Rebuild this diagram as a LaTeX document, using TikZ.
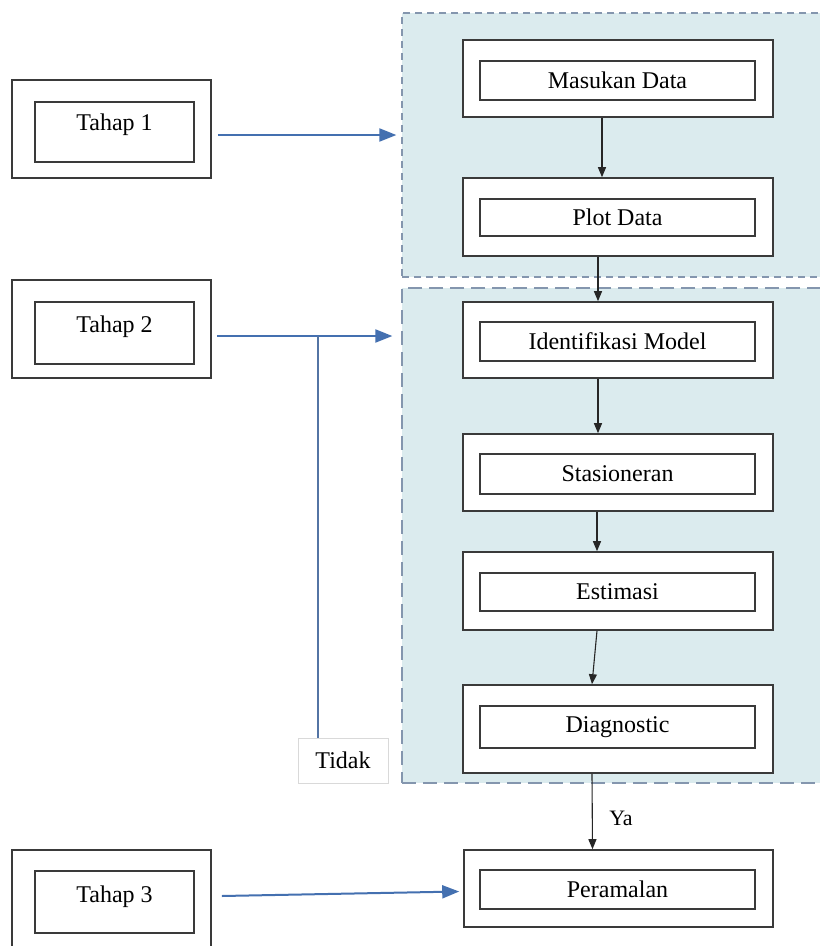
\documentclass[tikz,border=0pt]{standalone}
\usepackage{fontspec}
\setmainfont{Liberation Serif}
\usetikzlibrary{arrows.meta,calc}

\definecolor{panelfill}{HTML}{DBEBEE}
\definecolor{paneledge}{HTML}{8496AE}
\definecolor{flowblue}{HTML}{4470B0}
\definecolor{boxedge}{HTML}{3A3A3A}

\tikzset{
  outerbox/.style={draw=boxedge, line width=1.6pt, fill=white, minimum width=#1, inner sep=0pt},
  innerbox/.style={draw=boxedge, line width=1.4pt, fill=white, inner sep=0pt,
    font=\fontsize{24}{26}\selectfont},
  stagetext/.style={font=\fontsize{24}{26}\selectfont, inner sep=0pt},
  panel/.style={fill=panelfill, draw=paneledge, line width=1.3pt, inner sep=0pt},
  flow/.style={draw=black!85, line width=1.1pt, -{Triangle[length=10pt,width=8pt]}},
  stagearrow/.style={draw=flowblue, line width=2pt, -{Triangle[length=17pt,width=13pt]}},
  tidakbox/.style={draw=black!15, line width=0.6pt, fill=white, inner sep=0pt,
    font=\fontsize{24}{26}\selectfont},
}

\begin{document}
\begin{tikzpicture}[x=1pt,y=-1pt]
\clip (0,0) rectangle (820,946);
\fill[white] (0,0) rectangle (820,946);

% shaded stage panels
\node[panel, dash pattern=on 7pt off 5pt, minimum width=424pt, minimum height=264pt]
  (g1) at (614,145) {};
\node[panel, dash pattern=on 14pt off 7pt, minimum width=424pt, minimum height=495pt]
  (g2) at (614,535.5) {};

% stage boxes on the left
\node[outerbox={199pt}, minimum height=98pt] (t1o) at (111.5,129) {};
\node[innerbox, minimum width=159pt, minimum height=60pt] (t1i) at (114.5,132) {};
\node[stagetext] (t1t) at ([yshift=7pt]t1i.center) {Tahap 1};
\node[outerbox={199pt}, minimum height=98pt] (t2o) at (111.5,329) {};
\node[innerbox, minimum width=159pt, minimum height=62pt] (t2i) at (114.5,333) {};
\node[stagetext] (t2t) at ([yshift=6pt]t2i.center) {Tahap 2};
\node[outerbox={199pt}, minimum height=98pt] (t3o) at (111.5,899) {};
\node[innerbox, minimum width=159pt, minimum height=62pt] (t3i) at (114.5,902) {};
\node[stagetext] (t3t) at ([yshift=5pt]t3i.center) {Tahap 3};

% process steps
\node[outerbox={310pt}, minimum height=77pt] (mo) at (618,78.5) {};
\node[innerbox, minimum width=275pt, minimum height=39pt] (mi) at (617.5,80.5) {Masukan Data};
\node[outerbox={310pt}, minimum height=78pt] (po) at (618,217) {};
\node[innerbox, minimum width=275pt, minimum height=37pt] (pi) at (617.5,217.5) {Plot Data};
\node[outerbox={310pt}, minimum height=76pt] (io) at (618,340) {};
\node[innerbox, minimum width=275pt, minimum height=39pt] (ii) at (617.5,341.5) {Identifikasi Model};
\node[outerbox={310pt}, minimum height=77pt] (so) at (618,472.5) {};
\node[innerbox, minimum width=275pt, minimum height=40pt] (si) at (617.5,474) {Stasioneran};
\node[outerbox={310pt}, minimum height=78pt] (eo) at (618,591) {};
\node[innerbox, minimum width=275pt, minimum height=38pt] (ei) at (617.5,592) {Estimasi};
\node[outerbox={310pt}, minimum height=88pt] (do) at (618,729) {};
\node[innerbox, minimum width=275pt, minimum height=42pt] (di) at (617.5,727) {Diagnostic};
\node[outerbox={309pt}, minimum height=77pt] (ro) at (618.5,888.5) {};
\node[innerbox, minimum width=275pt, minimum height=39pt] (ri) at (617.5,889.5) {Peramalan};

% vertical flow
\draw[flow] ([xshift=-16pt]mo.south) -- ([xshift=-16pt]po.north);
\draw[flow] ([xshift=-20pt]po.south) -- ([xshift=-20pt]io.north);
\draw[flow] ([xshift=-20pt]io.south) -- ([xshift=-20pt]so.north);
\draw[flow] ([xshift=-21pt]so.south) -- ([xshift=-21pt]eo.north);
\draw[flow] ([xshift=-21pt]eo.south) -- ([xshift=-26pt]do.north);
\draw[flow] ([xshift=-26pt]do.south) -- ([xshift=-26pt]ro.north);
\node[font=\fontsize{22}{24}\selectfont] (ya) at (621,818) {Ya};

% stage arrows
\coordinate (a1) at ($(t1o.east)+(6,6)$);
\draw[stagearrow, shorten >=5pt] (a1) -- (a1 -| g1.west);
\coordinate (a2) at ($(t2o.east)+(5,7)$);
\draw[stagearrow, shorten >=9pt] (a2) -- (a2 -| g2.west);
\coordinate (a3) at ($(t3o.east)+(10,-3)$);
\coordinate (b3) at ($(ro.west)+(-4,3)$);
\draw[stagearrow] (a3) -- (b3);

% "Tidak" feedback line
\node[tidakbox, minimum width=90pt, minimum height=45pt] (td) at (343,760.5) {Tidak};
\coordinate (fb) at ($(a2)+(101,0)$);
\draw[draw=flowblue!75!gray, line width=1.4pt] (fb) -- (fb |- td.north);
\end{tikzpicture}
\end{document}
